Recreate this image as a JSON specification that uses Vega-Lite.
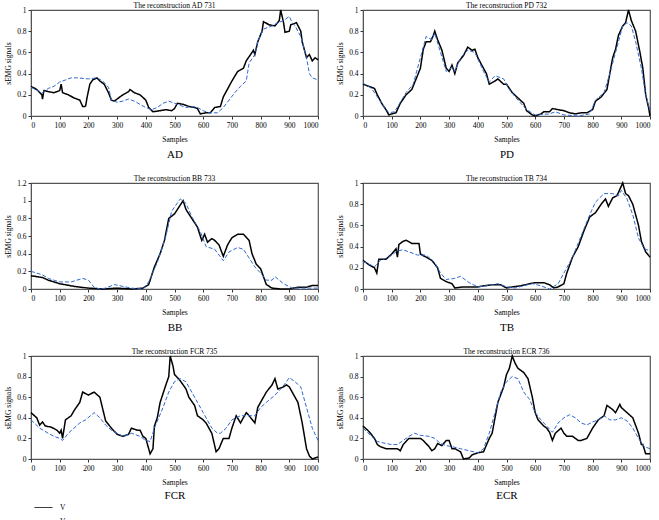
{
"$schema": "https://vega.github.io/schema/vega-lite/v6.json",
"background": "white",
"padding": {"left": 4, "top": 0, "right": 4, "bottom": 0},
"datasets": {
"AD_V": [{"x":0,"y":0.28},{"x":20,"y":0.25},{"x":38,"y":0.2},{"x":40,"y":0.16},{"x":45,"y":0.24},{"x":60,"y":0.23},{"x":80,"y":0.22},{"x":100,"y":0.24},{"x":105,"y":0.3},{"x":110,"y":0.22},{"x":130,"y":0.2},{"x":150,"y":0.17},{"x":170,"y":0.15},{"x":180,"y":0.09},{"x":190,"y":0.09},{"x":195,"y":0.17},{"x":205,"y":0.3},{"x":215,"y":0.34},{"x":230,"y":0.36},{"x":240,"y":0.33},{"x":255,"y":0.3},{"x":270,"y":0.22},{"x":280,"y":0.15},{"x":290,"y":0.14},{"x":310,"y":0.18},{"x":320,"y":0.2},{"x":340,"y":0.23},{"x":345,"y":0.25},{"x":360,"y":0.22},{"x":380,"y":0.2},{"x":400,"y":0.15},{"x":410,"y":0.08},{"x":425,"y":0.04},{"x":450,"y":0.05},{"x":470,"y":0.06},{"x":490,"y":0.05},{"x":500,"y":0.07},{"x":510,"y":0.12},{"x":530,"y":0.11},{"x":550,"y":0.09},{"x":570,"y":0.08},{"x":580,"y":0.07},{"x":590,"y":0.02},{"x":610,"y":0.03},{"x":625,"y":0.03},{"x":640,"y":0.08},{"x":660,"y":0.09},{"x":670,"y":0.18},{"x":690,"y":0.28},{"x":700,"y":0.33},{"x":720,"y":0.42},{"x":740,"y":0.45},{"x":750,"y":0.52},{"x":760,"y":0.56},{"x":775,"y":0.62},{"x":780,"y":0.58},{"x":790,"y":0.7},{"x":805,"y":0.8},{"x":810,"y":0.89},{"x":830,"y":0.86},{"x":850,"y":0.85},{"x":865,"y":0.9},{"x":870,"y":1.0},{"x":880,"y":0.88},{"x":885,"y":0.79},{"x":900,"y":0.8},{"x":905,"y":0.86},{"x":925,"y":0.88},{"x":940,"y":0.8},{"x":945,"y":0.7},{"x":955,"y":0.6},{"x":960,"y":0.55},{"x":970,"y":0.58},{"x":980,"y":0.52},{"x":990,"y":0.55},{"x":1000,"y":0.53}],
"AD_Vr": [{"x":0,"y":0.27},{"x":40,"y":0.22},{"x":60,"y":0.26},{"x":80,"y":0.28},{"x":100,"y":0.32},{"x":120,"y":0.34},{"x":140,"y":0.36},{"x":160,"y":0.36},{"x":200,"y":0.35},{"x":230,"y":0.36},{"x":250,"y":0.33},{"x":270,"y":0.27},{"x":280,"y":0.15},{"x":300,"y":0.13},{"x":320,"y":0.14},{"x":340,"y":0.16},{"x":360,"y":0.14},{"x":380,"y":0.11},{"x":400,"y":0.08},{"x":420,"y":0.06},{"x":440,"y":0.08},{"x":460,"y":0.12},{"x":480,"y":0.14},{"x":500,"y":0.12},{"x":520,"y":0.1},{"x":540,"y":0.08},{"x":560,"y":0.09},{"x":580,"y":0.08},{"x":600,"y":0.05},{"x":620,"y":0.03},{"x":650,"y":0.03},{"x":670,"y":0.08},{"x":690,"y":0.15},{"x":710,"y":0.22},{"x":730,"y":0.28},{"x":750,"y":0.33},{"x":760,"y":0.5},{"x":780,"y":0.58},{"x":790,"y":0.7},{"x":810,"y":0.82},{"x":840,"y":0.85},{"x":860,"y":0.88},{"x":880,"y":0.9},{"x":900,"y":0.94},{"x":910,"y":0.88},{"x":920,"y":0.85},{"x":940,"y":0.75},{"x":960,"y":0.55},{"x":970,"y":0.4},{"x":980,"y":0.36},{"x":1000,"y":0.34}],
"PD_V": [{"x":0,"y":0.3},{"x":20,"y":0.28},{"x":40,"y":0.26},{"x":50,"y":0.2},{"x":65,"y":0.12},{"x":80,"y":0.06},{"x":90,"y":0.01},{"x":100,"y":0.02},{"x":115,"y":0.03},{"x":130,"y":0.12},{"x":150,"y":0.2},{"x":170,"y":0.25},{"x":185,"y":0.35},{"x":200,"y":0.45},{"x":210,"y":0.63},{"x":220,"y":0.7},{"x":235,"y":0.7},{"x":245,"y":0.76},{"x":250,"y":0.8},{"x":260,"y":0.72},{"x":275,"y":0.62},{"x":290,"y":0.45},{"x":300,"y":0.42},{"x":310,"y":0.48},{"x":320,"y":0.4},{"x":330,"y":0.5},{"x":350,"y":0.57},{"x":365,"y":0.65},{"x":380,"y":0.62},{"x":390,"y":0.63},{"x":400,"y":0.55},{"x":420,"y":0.45},{"x":430,"y":0.4},{"x":440,"y":0.3},{"x":460,"y":0.33},{"x":470,"y":0.35},{"x":490,"y":0.3},{"x":500,"y":0.3},{"x":520,"y":0.22},{"x":540,"y":0.17},{"x":560,"y":0.12},{"x":570,"y":0.05},{"x":590,"y":0.01},{"x":600,"y":0.0},{"x":620,"y":0.02},{"x":630,"y":0.04},{"x":650,"y":0.04},{"x":660,"y":0.07},{"x":680,"y":0.06},{"x":700,"y":0.05},{"x":720,"y":0.03},{"x":740,"y":0.02},{"x":760,"y":0.03},{"x":780,"y":0.03},{"x":800,"y":0.06},{"x":810,"y":0.14},{"x":830,"y":0.18},{"x":850,"y":0.25},{"x":860,"y":0.4},{"x":870,"y":0.55},{"x":880,"y":0.63},{"x":890,"y":0.76},{"x":905,"y":0.85},{"x":915,"y":0.88},{"x":925,"y":1.0},{"x":935,"y":0.9},{"x":950,"y":0.8},{"x":965,"y":0.6},{"x":975,"y":0.45},{"x":985,"y":0.2},{"x":995,"y":0.08},{"x":1000,"y":0.0}],
"PD_Vr": [{"x":0,"y":0.31},{"x":30,"y":0.26},{"x":60,"y":0.14},{"x":90,"y":0.03},{"x":110,"y":0.04},{"x":130,"y":0.13},{"x":150,"y":0.22},{"x":175,"y":0.3},{"x":200,"y":0.55},{"x":220,"y":0.75},{"x":240,"y":0.72},{"x":250,"y":0.78},{"x":270,"y":0.6},{"x":290,"y":0.42},{"x":310,"y":0.46},{"x":320,"y":0.42},{"x":340,"y":0.55},{"x":365,"y":0.62},{"x":390,"y":0.6},{"x":420,"y":0.42},{"x":440,"y":0.32},{"x":460,"y":0.38},{"x":490,"y":0.35},{"x":510,"y":0.25},{"x":540,"y":0.15},{"x":570,"y":0.06},{"x":600,"y":0.01},{"x":650,"y":0.02},{"x":670,"y":0.04},{"x":700,"y":0.01},{"x":750,"y":0.0},{"x":790,"y":0.02},{"x":810,"y":0.15},{"x":840,"y":0.22},{"x":860,"y":0.4},{"x":880,"y":0.6},{"x":905,"y":0.85},{"x":920,"y":0.88},{"x":935,"y":0.85},{"x":950,"y":0.7},{"x":970,"y":0.45},{"x":985,"y":0.2},{"x":1000,"y":0.05}],
"BB_V": [{"x":0,"y":0.15},{"x":40,"y":0.13},{"x":60,"y":0.1},{"x":100,"y":0.06},{"x":150,"y":0.03},{"x":200,"y":0.01},{"x":250,"y":0.0},{"x":300,"y":0.01},{"x":350,"y":0.0},{"x":390,"y":0.01},{"x":410,"y":0.05},{"x":430,"y":0.25},{"x":450,"y":0.4},{"x":465,"y":0.55},{"x":480,"y":0.8},{"x":500,"y":0.85},{"x":510,"y":0.9},{"x":520,"y":0.95},{"x":530,"y":1.0},{"x":540,"y":0.9},{"x":560,"y":0.8},{"x":580,"y":0.7},{"x":595,"y":0.55},{"x":605,"y":0.62},{"x":615,"y":0.53},{"x":630,"y":0.57},{"x":640,"y":0.55},{"x":655,"y":0.5},{"x":670,"y":0.37},{"x":685,"y":0.5},{"x":700,"y":0.58},{"x":720,"y":0.62},{"x":740,"y":0.62},{"x":760,"y":0.55},{"x":770,"y":0.4},{"x":785,"y":0.28},{"x":800,"y":0.23},{"x":820,"y":0.05},{"x":840,"y":0.01},{"x":870,"y":0.0},{"x":900,"y":0.0},{"x":930,"y":0.02},{"x":960,"y":0.02},{"x":980,"y":0.04},{"x":1000,"y":0.04}],
"BB_Vr": [{"x":0,"y":0.2},{"x":40,"y":0.16},{"x":60,"y":0.12},{"x":100,"y":0.08},{"x":140,"y":0.08},{"x":160,"y":0.1},{"x":180,"y":0.12},{"x":200,"y":0.1},{"x":220,"y":0.02},{"x":240,"y":0.0},{"x":260,"y":0.01},{"x":290,"y":0.05},{"x":320,"y":0.03},{"x":350,"y":0.01},{"x":390,"y":0.0},{"x":410,"y":0.08},{"x":440,"y":0.3},{"x":470,"y":0.6},{"x":490,"y":0.88},{"x":505,"y":0.95},{"x":520,"y":1.02},{"x":540,"y":0.97},{"x":560,"y":0.82},{"x":590,"y":0.65},{"x":610,"y":0.48},{"x":640,"y":0.45},{"x":670,"y":0.32},{"x":690,"y":0.42},{"x":720,"y":0.47},{"x":740,"y":0.45},{"x":760,"y":0.35},{"x":780,"y":0.25},{"x":800,"y":0.18},{"x":820,"y":0.1},{"x":840,"y":0.1},{"x":850,"y":0.14},{"x":880,"y":0.06},{"x":910,"y":0.01},{"x":950,"y":0.01},{"x":1000,"y":0.01}],
"TB_V": [{"x":0,"y":0.27},{"x":20,"y":0.23},{"x":40,"y":0.2},{"x":48,"y":0.15},{"x":55,"y":0.28},{"x":80,"y":0.28},{"x":100,"y":0.33},{"x":115,"y":0.38},{"x":120,"y":0.3},{"x":125,"y":0.42},{"x":140,"y":0.45},{"x":150,"y":0.46},{"x":170,"y":0.43},{"x":195,"y":0.43},{"x":200,"y":0.33},{"x":220,"y":0.3},{"x":240,"y":0.27},{"x":260,"y":0.2},{"x":270,"y":0.1},{"x":290,"y":0.07},{"x":310,"y":0.05},{"x":320,"y":0.01},{"x":350,"y":0.02},{"x":400,"y":0.02},{"x":420,"y":0.03},{"x":450,"y":0.04},{"x":480,"y":0.04},{"x":500,"y":0.01},{"x":520,"y":0.02},{"x":550,"y":0.03},{"x":580,"y":0.05},{"x":600,"y":0.06},{"x":630,"y":0.06},{"x":650,"y":0.04},{"x":665,"y":0.01},{"x":680,"y":0.02},{"x":700,"y":0.05},{"x":710,"y":0.15},{"x":730,"y":0.3},{"x":750,"y":0.4},{"x":770,"y":0.55},{"x":790,"y":0.68},{"x":810,"y":0.72},{"x":830,"y":0.8},{"x":845,"y":0.85},{"x":855,"y":0.78},{"x":870,"y":0.86},{"x":885,"y":0.88},{"x":905,"y":1.0},{"x":915,"y":0.9},{"x":925,"y":0.88},{"x":940,"y":0.8},{"x":960,"y":0.6},{"x":970,"y":0.45},{"x":985,"y":0.35},{"x":1000,"y":0.3}],
"TB_Vr": [{"x":0,"y":0.26},{"x":40,"y":0.21},{"x":60,"y":0.27},{"x":90,"y":0.3},{"x":120,"y":0.36},{"x":140,"y":0.37},{"x":160,"y":0.35},{"x":190,"y":0.32},{"x":220,"y":0.32},{"x":250,"y":0.25},{"x":270,"y":0.15},{"x":290,"y":0.09},{"x":320,"y":0.1},{"x":340,"y":0.12},{"x":370,"y":0.06},{"x":400,"y":0.02},{"x":430,"y":0.03},{"x":470,"y":0.05},{"x":500,"y":0.02},{"x":530,"y":0.01},{"x":560,"y":0.03},{"x":590,"y":0.05},{"x":620,"y":0.03},{"x":650,"y":0.0},{"x":680,"y":0.05},{"x":700,"y":0.15},{"x":730,"y":0.3},{"x":760,"y":0.5},{"x":790,"y":0.7},{"x":810,"y":0.82},{"x":840,"y":0.9},{"x":870,"y":0.9},{"x":890,"y":0.88},{"x":900,"y":0.93},{"x":920,"y":0.85},{"x":940,"y":0.7},{"x":960,"y":0.48},{"x":980,"y":0.38},{"x":1000,"y":0.36}],
"FCR_V": [{"x":0,"y":0.45},{"x":20,"y":0.4},{"x":30,"y":0.33},{"x":40,"y":0.36},{"x":50,"y":0.32},{"x":70,"y":0.31},{"x":90,"y":0.28},{"x":100,"y":0.25},{"x":105,"y":0.28},{"x":110,"y":0.2},{"x":120,"y":0.38},{"x":140,"y":0.42},{"x":150,"y":0.47},{"x":170,"y":0.55},{"x":180,"y":0.65},{"x":200,"y":0.62},{"x":220,"y":0.65},{"x":240,"y":0.6},{"x":260,"y":0.37},{"x":280,"y":0.3},{"x":300,"y":0.24},{"x":320,"y":0.22},{"x":340,"y":0.24},{"x":350,"y":0.3},{"x":370,"y":0.28},{"x":380,"y":0.28},{"x":390,"y":0.22},{"x":400,"y":0.2},{"x":415,"y":0.05},{"x":425,"y":0.1},{"x":430,"y":0.32},{"x":440,"y":0.4},{"x":450,"y":0.55},{"x":470,"y":0.72},{"x":480,"y":0.8},{"x":485,"y":1.0},{"x":495,"y":0.9},{"x":500,"y":0.82},{"x":520,"y":0.76},{"x":540,"y":0.68},{"x":550,"y":0.6},{"x":570,"y":0.52},{"x":580,"y":0.42},{"x":600,"y":0.38},{"x":610,"y":0.35},{"x":630,"y":0.25},{"x":645,"y":0.07},{"x":655,"y":0.1},{"x":670,"y":0.2},{"x":690,"y":0.2},{"x":700,"y":0.3},{"x":715,"y":0.42},{"x":730,"y":0.35},{"x":750,"y":0.45},{"x":760,"y":0.42},{"x":780,"y":0.35},{"x":790,"y":0.5},{"x":810,"y":0.6},{"x":820,"y":0.65},{"x":840,"y":0.72},{"x":850,"y":0.78},{"x":860,"y":0.68},{"x":880,"y":0.7},{"x":890,"y":0.72},{"x":900,"y":0.7},{"x":910,"y":0.65},{"x":930,"y":0.55},{"x":945,"y":0.35},{"x":960,"y":0.1},{"x":970,"y":0.03},{"x":980,"y":0.0},{"x":1000,"y":0.02}],
"FCR_Vr": [{"x":0,"y":0.38},{"x":30,"y":0.3},{"x":60,"y":0.25},{"x":80,"y":0.22},{"x":100,"y":0.2},{"x":110,"y":0.18},{"x":130,"y":0.25},{"x":150,"y":0.3},{"x":170,"y":0.35},{"x":190,"y":0.38},{"x":220,"y":0.45},{"x":240,"y":0.4},{"x":260,"y":0.33},{"x":280,"y":0.28},{"x":300,"y":0.25},{"x":320,"y":0.22},{"x":350,"y":0.25},{"x":380,"y":0.22},{"x":400,"y":0.18},{"x":415,"y":0.17},{"x":430,"y":0.3},{"x":460,"y":0.5},{"x":480,"y":0.65},{"x":500,"y":0.75},{"x":520,"y":0.78},{"x":540,"y":0.75},{"x":560,"y":0.65},{"x":580,"y":0.55},{"x":600,"y":0.45},{"x":620,"y":0.35},{"x":630,"y":0.3},{"x":650,"y":0.25},{"x":660,"y":0.25},{"x":680,"y":0.3},{"x":700,"y":0.38},{"x":730,"y":0.42},{"x":760,"y":0.42},{"x":780,"y":0.42},{"x":800,"y":0.5},{"x":820,"y":0.55},{"x":850,"y":0.62},{"x":870,"y":0.68},{"x":890,"y":0.75},{"x":900,"y":0.79},{"x":920,"y":0.75},{"x":940,"y":0.7},{"x":960,"y":0.5},{"x":980,"y":0.3},{"x":1000,"y":0.18}],
"ECR_V": [{"x":0,"y":0.32},{"x":20,"y":0.27},{"x":40,"y":0.2},{"x":50,"y":0.14},{"x":60,"y":0.12},{"x":80,"y":0.1},{"x":100,"y":0.1},{"x":120,"y":0.1},{"x":130,"y":0.08},{"x":140,"y":0.14},{"x":160,"y":0.2},{"x":180,"y":0.2},{"x":200,"y":0.2},{"x":210,"y":0.18},{"x":230,"y":0.12},{"x":240,"y":0.08},{"x":250,"y":0.1},{"x":260,"y":0.15},{"x":275,"y":0.13},{"x":290,"y":0.18},{"x":300,"y":0.18},{"x":310,"y":0.1},{"x":320,"y":0.1},{"x":340,"y":0.07},{"x":350,"y":0.0},{"x":370,"y":0.01},{"x":380,"y":0.04},{"x":400,"y":0.06},{"x":420,"y":0.07},{"x":440,"y":0.2},{"x":450,"y":0.25},{"x":460,"y":0.4},{"x":470,"y":0.55},{"x":490,"y":0.7},{"x":500,"y":0.82},{"x":510,"y":0.88},{"x":520,"y":1.0},{"x":530,"y":0.93},{"x":540,"y":0.88},{"x":560,"y":0.84},{"x":575,"y":0.78},{"x":590,"y":0.6},{"x":600,"y":0.45},{"x":610,"y":0.38},{"x":630,"y":0.32},{"x":640,"y":0.3},{"x":650,"y":0.26},{"x":660,"y":0.18},{"x":670,"y":0.25},{"x":690,"y":0.3},{"x":700,"y":0.25},{"x":710,"y":0.22},{"x":730,"y":0.22},{"x":750,"y":0.18},{"x":760,"y":0.18},{"x":780,"y":0.2},{"x":790,"y":0.25},{"x":800,"y":0.3},{"x":820,"y":0.38},{"x":840,"y":0.42},{"x":850,"y":0.52},{"x":870,"y":0.48},{"x":880,"y":0.45},{"x":895,"y":0.53},{"x":900,"y":0.5},{"x":920,"y":0.45},{"x":940,"y":0.4},{"x":960,"y":0.25},{"x":970,"y":0.14},{"x":975,"y":0.14},{"x":985,"y":0.05},{"x":1000,"y":0.05}],
"ECR_Vr": [{"x":0,"y":0.3},{"x":30,"y":0.22},{"x":50,"y":0.17},{"x":80,"y":0.15},{"x":100,"y":0.14},{"x":120,"y":0.14},{"x":140,"y":0.18},{"x":160,"y":0.22},{"x":180,"y":0.25},{"x":200,"y":0.23},{"x":230,"y":0.22},{"x":250,"y":0.2},{"x":270,"y":0.15},{"x":290,"y":0.13},{"x":310,"y":0.12},{"x":340,"y":0.1},{"x":370,"y":0.08},{"x":400,"y":0.06},{"x":420,"y":0.1},{"x":440,"y":0.25},{"x":460,"y":0.45},{"x":480,"y":0.65},{"x":500,"y":0.75},{"x":520,"y":0.8},{"x":540,"y":0.78},{"x":560,"y":0.65},{"x":580,"y":0.58},{"x":600,"y":0.45},{"x":620,"y":0.38},{"x":640,"y":0.32},{"x":660,"y":0.26},{"x":680,"y":0.35},{"x":700,"y":0.4},{"x":720,"y":0.43},{"x":740,"y":0.4},{"x":760,"y":0.35},{"x":780,"y":0.33},{"x":800,"y":0.36},{"x":820,"y":0.38},{"x":840,"y":0.42},{"x":860,"y":0.38},{"x":880,"y":0.38},{"x":900,"y":0.4},{"x":920,"y":0.37},{"x":940,"y":0.3},{"x":960,"y":0.2},{"x":980,"y":0.12},{"x":1000,"y":0.1}]
},
"columns": 2,
"spacing": {"column": 14, "row": 13},
"concat": [
{"title": "The reconstruction AD 731", "width": 287, "height": 106, "resolve": {"axis": {"x": "independent"}},
 "layer": [
  {"data": {"name": "AD_V"}, "mark": {"type": "line", "strokeWidth": 1.5}, "encoding": {"x": {"field": "x", "type": "quantitative", "scale": {"domain": [0, 1000]}, "axis": {"title": "Samples", "format": "d", "values": [0,100,200,300,400,500,600,700,800,900,1000]}}, "y": {"field": "y", "type": "quantitative", "scale": {"domain": [0, 1]}, "axis": {"title": "sEMG signals", "values": [0,0.2,0.4,0.6,0.8,1], "format": "~g"}}, "color": {"datum": "V"}, "strokeDash": {"datum": "V"}}},
  {"data": {"name": "AD_Vr"}, "mark": {"type": "line", "strokeWidth": 1}, "encoding": {"x": {"field": "x", "type": "quantitative", "axis": {"title": "AD", "orient": "bottom", "offset": 29, "labels": false, "ticks": false, "domain": false, "titleFontSize": 11, "titlePadding": 3}}, "y": {"field": "y", "type": "quantitative", "axis": {"title": "sEMG signals", "values": [0,0.2,0.4,0.6,0.8,1], "format": "~g"}}, "color": {"datum": "Vr"}, "strokeDash": {"datum": "Vr"}}}
 ]},
{"title": "The reconstruction PD 732", "width": 287, "height": 106, "resolve": {"axis": {"x": "independent"}},
 "layer": [
  {"data": {"name": "PD_V"}, "mark": {"type": "line", "strokeWidth": 1.5}, "encoding": {"x": {"field": "x", "type": "quantitative", "scale": {"domain": [0, 1000]}, "axis": {"title": "Samples", "format": "d", "values": [0,100,200,300,400,500,600,700,800,900,1000]}}, "y": {"field": "y", "type": "quantitative", "scale": {"domain": [0, 1]}, "axis": {"title": "sEMG signals", "values": [0,0.2,0.4,0.6,0.8,1], "format": "~g"}}, "color": {"datum": "V"}, "strokeDash": {"datum": "V"}}},
  {"data": {"name": "PD_Vr"}, "mark": {"type": "line", "strokeWidth": 1}, "encoding": {"x": {"field": "x", "type": "quantitative", "axis": {"title": "PD", "orient": "bottom", "offset": 29, "labels": false, "ticks": false, "domain": false, "titleFontSize": 11, "titlePadding": 3}}, "y": {"field": "y", "type": "quantitative", "axis": {"title": "sEMG signals", "values": [0,0.2,0.4,0.6,0.8,1], "format": "~g"}}, "color": {"datum": "Vr"}, "strokeDash": {"datum": "Vr"}}}
 ]},
{"title": "The reconstruction BB 733", "width": 287, "height": 106, "resolve": {"axis": {"x": "independent"}},
 "layer": [
  {"data": {"name": "BB_V"}, "mark": {"type": "line", "strokeWidth": 1.5}, "encoding": {"x": {"field": "x", "type": "quantitative", "scale": {"domain": [0, 1000]}, "axis": {"title": "Samples", "format": "d", "values": [0,100,200,300,400,500,600,700,800,900,1000]}}, "y": {"field": "y", "type": "quantitative", "scale": {"domain": [0, 1.2]}, "axis": {"title": "sEMG signals", "values": [0,0.2,0.4,0.6,0.8,1,1.2], "format": "~g"}}, "color": {"datum": "V"}, "strokeDash": {"datum": "V"}}},
  {"data": {"name": "BB_Vr"}, "mark": {"type": "line", "strokeWidth": 1}, "encoding": {"x": {"field": "x", "type": "quantitative", "axis": {"title": "BB", "orient": "bottom", "offset": 29, "labels": false, "ticks": false, "domain": false, "titleFontSize": 11, "titlePadding": 3}}, "y": {"field": "y", "type": "quantitative", "axis": {"title": "sEMG signals", "values": [0,0.2,0.4,0.6,0.8,1,1.2], "format": "~g"}}, "color": {"datum": "Vr"}, "strokeDash": {"datum": "Vr"}}}
 ]},
{"title": "The reconstruction TB 734", "width": 287, "height": 106, "resolve": {"axis": {"x": "independent"}},
 "layer": [
  {"data": {"name": "TB_V"}, "mark": {"type": "line", "strokeWidth": 1.5}, "encoding": {"x": {"field": "x", "type": "quantitative", "scale": {"domain": [0, 1000]}, "axis": {"title": "Samples", "format": "d", "values": [0,100,200,300,400,500,600,700,800,900,1000]}}, "y": {"field": "y", "type": "quantitative", "scale": {"domain": [0, 1]}, "axis": {"title": "sEMG signals", "values": [0,0.2,0.4,0.6,0.8,1], "format": "~g"}}, "color": {"datum": "V"}, "strokeDash": {"datum": "V"}}},
  {"data": {"name": "TB_Vr"}, "mark": {"type": "line", "strokeWidth": 1}, "encoding": {"x": {"field": "x", "type": "quantitative", "axis": {"title": "TB", "orient": "bottom", "offset": 29, "labels": false, "ticks": false, "domain": false, "titleFontSize": 11, "titlePadding": 3}}, "y": {"field": "y", "type": "quantitative", "axis": {"title": "sEMG signals", "values": [0,0.2,0.4,0.6,0.8,1], "format": "~g"}}, "color": {"datum": "Vr"}, "strokeDash": {"datum": "Vr"}}}
 ]},
{"title": "The reconstruction FCR 735", "width": 287, "height": 103, "resolve": {"axis": {"x": "independent"}},
 "layer": [
  {"data": {"name": "FCR_V"}, "mark": {"type": "line", "strokeWidth": 1.5}, "encoding": {"x": {"field": "x", "type": "quantitative", "scale": {"domain": [0, 1000]}, "axis": {"title": "Samples", "format": "d", "values": [0,100,200,300,400,500,600,700,800,900,1000]}}, "y": {"field": "y", "type": "quantitative", "scale": {"domain": [0, 1]}, "axis": {"title": "sEMG signals", "values": [0,0.2,0.4,0.6,0.8,1], "format": "~g"}}, "color": {"datum": "V"}, "strokeDash": {"datum": "V"}}},
  {"data": {"name": "FCR_Vr"}, "mark": {"type": "line", "strokeWidth": 1}, "encoding": {"x": {"field": "x", "type": "quantitative", "axis": {"title": "FCR", "orient": "bottom", "offset": 27, "labels": false, "ticks": false, "domain": false, "titleFontSize": 11, "titlePadding": 3}}, "y": {"field": "y", "type": "quantitative", "axis": {"title": "sEMG signals", "values": [0,0.2,0.4,0.6,0.8,1], "format": "~g"}}, "color": {"datum": "Vr"}, "strokeDash": {"datum": "Vr"}}}
 ]},
{"title": "The reconstruction ECR 736", "width": 287, "height": 103, "resolve": {"axis": {"x": "independent"}},
 "layer": [
  {"data": {"name": "ECR_V"}, "mark": {"type": "line", "strokeWidth": 1.5}, "encoding": {"x": {"field": "x", "type": "quantitative", "scale": {"domain": [0, 1000]}, "axis": {"title": "Samples", "format": "d", "values": [0,100,200,300,400,500,600,700,800,900,1000]}}, "y": {"field": "y", "type": "quantitative", "scale": {"domain": [0, 1]}, "axis": {"title": "sEMG signals", "values": [0,0.2,0.4,0.6,0.8,1], "format": "~g"}}, "color": {"datum": "V"}, "strokeDash": {"datum": "V"}}},
  {"data": {"name": "ECR_Vr"}, "mark": {"type": "line", "strokeWidth": 1}, "encoding": {"x": {"field": "x", "type": "quantitative", "axis": {"title": "ECR", "orient": "bottom", "offset": 27, "labels": false, "ticks": false, "domain": false, "titleFontSize": 11, "titlePadding": 3}}, "y": {"field": "y", "type": "quantitative", "axis": {"title": "sEMG signals", "values": [0,0.2,0.4,0.6,0.8,1], "format": "~g"}}, "color": {"datum": "Vr"}, "strokeDash": {"datum": "Vr"}}}
 ]}
],
"resolve": {"scale": {"color": "shared", "strokeDash": "shared"}},
"config": {
 "font": "Liberation Serif",
 "view": {"stroke": "#555", "strokeWidth": 1.2},
 "title": {"font": "Liberation Serif", "fontSize": 7.5, "fontWeight": "normal", "color": "black", "offset": -3, "frame": "group"},
 "axis": {"grid": false, "labelFont": "Liberation Serif", "labelFontSize": 7.5, "labelColor": "black", "tickSize": 3, "tickColor": "#333", "domainColor": "#555", "titleFont": "Liberation Serif", "titleFontSize": 7.5, "titleFontWeight": "normal", "titleColor": "black", "labelPadding": 2},
 "axisX": {"titlePadding": 7},
 "axisY": {"titlePadding": 4},
 "range": {"category": ["black", "#2f68d0"], "strokeDash": [[1, 0], [3, 2]]},
 "legend": {"orient": "none", "legendX": 3, "legendY": 488, "direction": "vertical", "title": null, "symbolType": "stroke", "symbolSize": 320, "symbolStrokeWidth": 1, "labelFont": "Liberation Serif", "labelFontSize": 7.5, "labelColor": "black", "labelOffset": 7, "rowPadding": 1, "padding": 0}
}
}
